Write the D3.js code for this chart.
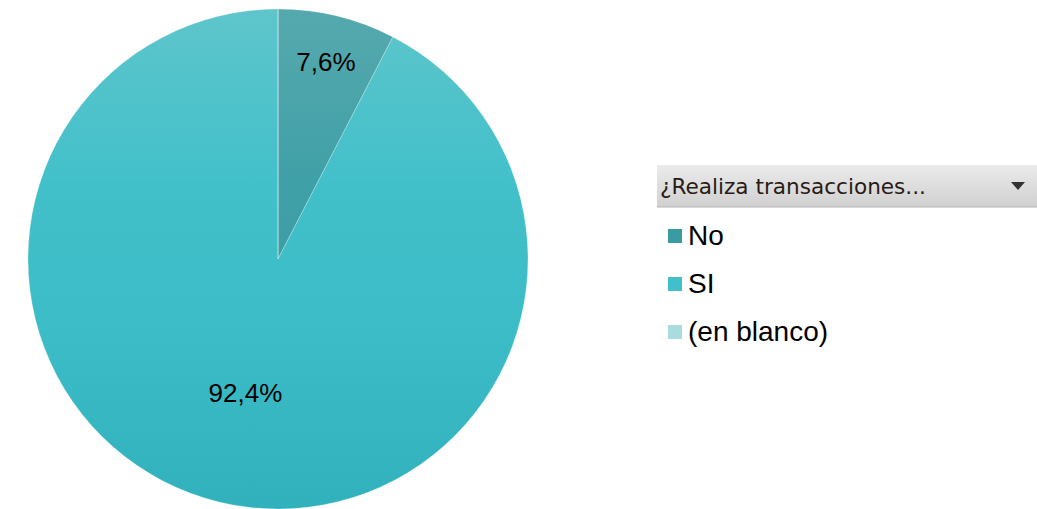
<!DOCTYPE html>
<html>
<head>
<meta charset="utf-8">
<script src="https://cdn.jsdelivr.net/npm/d3@7"></script>
<style>
  body { margin: 0; background: #fff; }
  svg { display: block; }
</style>
</head>
<body>
<div id="content"></div>
<script>
var categories = ["No", "SI", "(en blanco)"];
var values = [7.6, 92.4, 0];
var labels = ["7,6%", "92,4%", ""];
var legendTitle = "¿Realiza transacciones...";

var width = 1037, height = 509;
var cx = 278, cy = 259, radius = 250;

// gradient stops of each slice, top to bottom
var stopOffsets = ["0%", "35%", "65%", "100%"];
var sliceStops = [
  ["#55a9ae", "#40a0a7", "#399ba2", "#2f939a"],
  ["#5ec5cb", "#42c0ca", "#3bbcc6", "#30b1bb"],
  ["#b4e0e3", "#a8dade", "#a3d8dc", "#9fd6da"]
];
var legendColor = ["#3a9ca3", "#3fc0ca", "#aadbde"];

var svg = d3.select("#content").append("svg")
    .attr("width", width)
    .attr("height", height);

var defs = svg.append("defs");
categories.forEach(function(c, i) {
  // user space of the paths is the translated group, so run from -r to r
  var g = defs.append("linearGradient")
      .attr("id", "grad" + i)
      .attr("gradientUnits", "userSpaceOnUse")
      .attr("x1", 0).attr("y1", -radius)
      .attr("x2", 0).attr("y2", radius);
  stopOffsets.forEach(function(o, j) {
    g.append("stop").attr("offset", o).attr("stop-color", sliceStops[i][j]);
  });
});

var hdr = defs.append("linearGradient")
    .attr("id", "hdr").attr("x1", 0).attr("y1", 0).attr("x2", 0).attr("y2", 1);
hdr.append("stop").attr("offset", "0%").attr("stop-color", "#ebebeb");
hdr.append("stop").attr("offset", "100%").attr("stop-color", "#d0d0d0");

var pie = d3.pie().sort(null).value(function(d) { return d; });
var arc = d3.arc().innerRadius(0).outerRadius(radius);
var arcs = pie(values);

var g = svg.append("g").attr("transform", "translate(" + cx + "," + cy + ")");

g.selectAll("path")
  .data(arcs)
  .enter()
  .append("path")
  .attr("d", arc)
  .attr("fill", function(d, i) { return "url(#grad" + i + ")"; })
  .attr("stroke", "rgba(255,255,255,0.3)")
  .attr("stroke-width", 0.8);

var labelArc = d3.arc().innerRadius(radius * 0.55).outerRadius(radius * 0.55);
var labelArcNo = d3.arc().innerRadius(radius * 0.81).outerRadius(radius * 0.81);

g.selectAll("text.lbl")
  .data(arcs)
  .enter()
  .append("text")
  .attr("class", "lbl")
  .attr("transform", function(d, i) {
    var p = (i === 0 ? labelArcNo : labelArc).centroid(d);
    return "translate(" + p[0] + "," + p[1] + ")";
  })
  .attr("text-anchor", "middle")
  .attr("dy", "0.35em")
  .style("font-family", "'Liberation Sans', Arial, sans-serif")
  .style("font-size", "26px")
  .style("fill", "#000")
  .text(function(d, i) { return labels[i]; });

// legend
var lx = 657, ly = 165;
var lg = svg.append("g").attr("transform", "translate(" + lx + "," + ly + ")");
lg.append("rect")
  .attr("x", 0).attr("y", 0)
  .attr("width", width - lx).attr("height", 42)
  .attr("fill", "url(#hdr)");
lg.append("line")
  .attr("x1", 0).attr("x2", width - lx)
  .attr("y1", 42).attr("y2", 42)
  .attr("stroke", "#b4b4b4");
lg.append("text")
  .attr("x", 3).attr("y", 29)
  .style("font-family", "'DejaVu Sans', Tahoma, sans-serif")
  .style("font-size", "21.6px")
  .style("fill", "#2a1a14")
  .text(legendTitle);
lg.append("path")
  .attr("d", "M354,17 L368,17 L361,25 Z")
  .attr("fill", "#333");

var items = lg.selectAll("g.item")
  .data(categories)
  .enter()
  .append("g")
  .attr("class", "item")
  .attr("transform", function(d, i) { return "translate(11," + (64 + i * 48) + ")"; });

items.append("rect")
  .attr("x", 0).attr("y", 0)
  .attr("width", 14).attr("height", 14)
  .attr("fill", function(d, i) { return legendColor[i]; });

items.append("text")
  .attr("x", 20).attr("y", 16)
  .style("font-family", "'Liberation Sans', Arial, sans-serif")
  .style("font-size", "28px")
  .style("fill", "#000")
  .text(function(d) { return d; });
</script>
</body>
</html>
